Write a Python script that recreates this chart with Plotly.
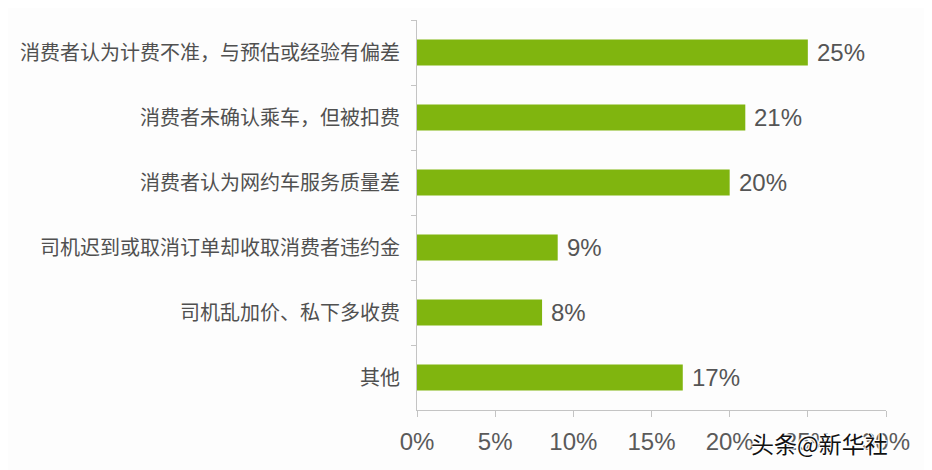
import plotly.graph_objects as go

categories = [
    "消费者认为计费不准，与预估或经验有偏差",
    "消费者未确认乘车，但被扣费",
    "消费者认为网约车服务质量差",
    "司机迟到或取消订单却收取消费者违约金",
    "司机乱加价、私下多收费",
    "其他",
]
values = [25, 21, 20, 9, 8, 17]
tick_vals = [0, 5, 10, 15, 20, 25, 30]
tick_text = ["0%", "5%", "10%", "15%", "20%", "25%", "30%"]

fig = go.Figure(
    go.Bar(
        x=values,
        y=categories,
        orientation="h",
        marker=dict(color="#80b50f", line=dict(width=0)),
        hoverinfo="skip",
    )
)

for cat, v in zip(categories, values):
    fig.add_annotation(
        x=v,
        y=cat,
        text=f"{v}%",
        xanchor="left",
        yanchor="middle",
        xshift=7,
        showarrow=False,
        font=dict(family="Liberation Sans, Arial, sans-serif", size=24, color="#555555"),
    )

fig.update_layout(
    width=932,
    height=470,
    margin=dict(l=409, r=54, t=12, b=68),
    paper_bgcolor="#fdfdfd",
    plot_bgcolor="#fdfdfd",
    bargap=0.6,
    showlegend=False,
    font=dict(family="Noto Sans CJK SC, sans-serif", color="#595959"),
)

fig.update_xaxes(
    range=[0, 30],
    tickvals=tick_vals,
    ticktext=tick_text,
    showgrid=False,
    zeroline=False,
    showline=True,
    linecolor="#c4c4c4",
    linewidth=1,
    ticks="outside",
    ticklen=6,
    tickcolor="#c4c4c4",
    ticklabelstandoff=4,
    tickfont=dict(family="Liberation Sans, Arial, sans-serif", size=24, color="#5a5a5a"),
)

fig.update_yaxes(
    autorange="reversed",
    showgrid=False,
    showline=True,
    linecolor="#c4c4c4",
    linewidth=1,
    ticks="outside",
    tickson="boundaries",
    ticklen=5,
    tickcolor="#c4c4c4",
    ticklabelstandoff=12,
    tickfont=dict(family="Noto Sans CJK SC, sans-serif", size=20, color="#505050"),
)

fig.add_annotation(
    text="头条@新华社",
    xref="paper",
    yref="paper",
    x=0.859,
    y=-0.0846,
    xanchor="center",
    yanchor="middle",
    showarrow=False,
    font=dict(
        family="Noto Sans CJK SC, sans-serif",
        size=23,
        color="#111111",
        shadow="1px 1px 1px #ffffff, -1px -1px 1px #ffffff, 1px -1px 1px #ffffff, -1px 1px 1px #ffffff",
    ),
)

fig.write_html("out.html")
